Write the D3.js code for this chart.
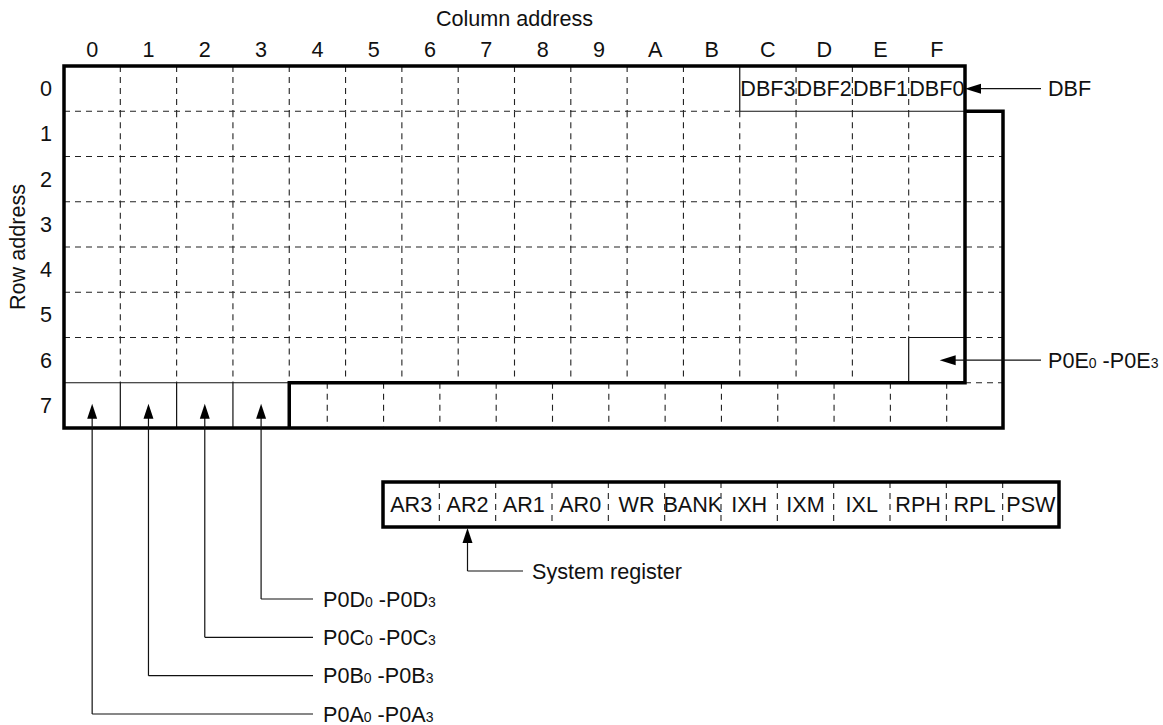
<!DOCTYPE html>
<html>
<head>
<meta charset="utf-8">
<script src="https://cdn.jsdelivr.net/npm/d3@7"></script>
<style>
  body { margin: 0; background: #fff; }
  text { font-family: "Liberation Sans", Arial, sans-serif; font-size: 21.6px; fill: #111; }
  .thick { stroke: #000; stroke-width: 3.5; fill: none; }
  .thin { stroke: #111; stroke-width: 1.2; fill: none; }
  .dash { stroke: #222; stroke-width: 1.1; stroke-dasharray: 6,5; fill: none; }
  .sub { font-size: 14px; }
</style>
</head>
<body>
<div id="chart"></div>
<script>
// data
var columns = ["0", "1", "2", "3", "4", "5", "6", "7", "8", "9", "A", "B", "C", "D", "E", "F"];
var rows = ["0", "1", "2", "3", "4", "5", "6", "7"];
var dbfCells = ["DBF3", "DBF2", "DBF1", "DBF0"];   // row 0, columns C..F
var dbfStartCol = 12;
var registers = ["AR3", "AR2", "AR1", "AR0", "WR", "BANK", "IXH", "IXM", "IXL", "RPH", "RPL", "PSW"];
var ports = ["P0A", "P0B", "P0C", "P0D"];          // row 7, columns 0..3
var p0eCell = {row: 6, col: 15};

var width = 1163, height = 725;

var svg = d3.select("#chart")
            .append("svg")
              .attr("width", width)
              .attr("height", height);

// scales
var x = d3.scaleLinear().domain([0, columns.length]).range([64, 965]);
var y = d3.scaleLinear().domain([0, rows.length]).range([66, 428]);
var ext = 38; // width of the extra column on the right
var xr = d3.scaleLinear().domain([0, registers.length]).range([383, 1059]);
var yPort = d3.scaleLinear().domain([0, ports.length - 1]).range([714, 599]);

function line(cls, x1, y1, x2, y2) {
  svg.append("line")
     .attr("class", cls)
     .attr("x1", x1).attr("y1", y1)
     .attr("x2", x2).attr("y2", y2);
}

// arrow head, tip at (tx, ty), direction "left" or "up"
function arrowHead(tx, ty, dir) {
  var p;
  if (dir === "left") {
    p = [[tx, ty], [tx + 16, ty - 5], [tx + 16, ty + 5]];
  } else {
    p = [[tx, ty], [tx - 5, ty + 15], [tx + 5, ty + 15]];
  }
  svg.append("path")
     .attr("d", "M" + p.join("L") + "Z")
     .attr("fill", "#000");
}

// label with subscripts, e.g. P0D0 -P0D3
function portLabel(name, lx, ly) {
  var t = svg.append("text").attr("x", lx).attr("y", ly);
  t.append("tspan").text(name);
  t.append("tspan").attr("class", "sub").text("0");
  t.append("tspan").text(" -" + name);
  t.append("tspan").attr("class", "sub").text("3");
}

// titles
svg.append("text")
   .attr("x", (x(0) + x(columns.length)) / 2)
   .attr("y", 26)
   .attr("text-anchor", "middle")
   .text("Column address");

svg.append("text")
   .attr("transform", "translate(25," + ((y(0) + y(rows.length)) / 2) + ") rotate(-90)")
   .attr("text-anchor", "middle")
   .text("Row address");

svg.selectAll(".col-label")
   .data(columns)
   .enter()
   .append("text")
     .attr("class", "col-label")
     .attr("x", function(d, i) { return x(i + 0.5); })
     .attr("y", 57)
     .attr("text-anchor", "middle")
     .text(function(d) { return d; });

svg.selectAll(".row-label")
   .data(rows)
   .enter()
   .append("text")
     .attr("class", "row-label")
     .attr("x", 46)
     .attr("y", function(d, i) { return y(i + 0.5) + 7.5; })
     .attr("text-anchor", "middle")
     .text(function(d) { return d; });

// dashed grid, rows 0..6
var last = rows.length - 1;
d3.range(1, columns.length).forEach(function(c) {
  for (var r = 0; r < last; r++) {
    var solid = (c === dbfStartCol && r === 0) || (c === p0eCell.col && r === p0eCell.row);
    line(solid ? "thin" : "dash", x(c), y(r), x(c), y(r + 1));
  }
});
d3.range(1, last).forEach(function(r) {
  if (r === 1) {
    line("dash", x(0), y(r), x(dbfStartCol), y(r));
    line("thin", x(dbfStartCol), y(r), x(columns.length), y(r));
  } else if (r === p0eCell.row) {
    line("dash", x(0), y(r), x(p0eCell.col), y(r));
    line("thin", x(p0eCell.col), y(r), x(columns.length), y(r));
    line("dash", x(columns.length), y(r), x(columns.length) + ext, y(r));
  } else {
    line("dash", x(0), y(r), x(columns.length) + ext, y(r));
  }
});
line("dash", x(columns.length), y(last), x(columns.length) + ext, y(last));

// row 7: port cells (solid) and the shifted part (dashed)
line("thin", x(0), y(last), x(ports.length), y(last));
d3.range(1, ports.length).forEach(function(c) {
  line("thin", x(c), y(last), x(c), y(rows.length));
});
d3.range(ports.length, columns.length).forEach(function(c) {
  line("dash", x(c) + ext, y(last), x(c) + ext, y(rows.length));
});

// thick outline
svg.append("path")
   .attr("class", "thick")
   .attr("d", "M" + x(ports.length) + "," + y(rows.length) +
              "V" + y(last) + "H" + x(columns.length) + "V" + y(0) +
              "H" + x(0) + "V" + y(rows.length) + "H" + (x(columns.length) + ext) +
              "V" + y(1) + "H" + x(columns.length));

// DBF cells
svg.selectAll(".dbf")
   .data(dbfCells)
   .enter()
   .append("text")
     .attr("class", "dbf")
     .attr("x", function(d, i) { return x(dbfStartCol + i + 0.5); })
     .attr("y", y(0.5) + 7.5)
     .attr("text-anchor", "middle")
     .text(function(d) { return d; });

// DBF arrow
var dbfY = y(0.5);
line("thin", x(columns.length) + 10, dbfY, 1041, dbfY);
arrowHead(x(columns.length), dbfY, "left");
svg.append("text").attr("x", 1048).attr("y", dbfY + 7.5).text("DBF");

// P0E arrow
var p0eY = y(p0eCell.row + 0.5);
var p0eX = x(p0eCell.col + 0.55);
line("thin", p0eX + 10, p0eY, 1041, p0eY);
arrowHead(p0eX, p0eY, "left");
portLabel("P0E", 1048, p0eY + 7.5);

// port arrows, row 7
ports.forEach(function(p, i) {
  var px = x(i + 0.5);
  var tipY = y(last) + 21;
  var ly = yPort(i);
  line("thin", px, tipY + 10, px, ly);
  line("thin", px, ly, 313, ly);
  arrowHead(px, tipY, "up");
  portLabel(p, 323, ly + 7.5);
});

// system register box
var regTop = 482, regBottom = 527;
d3.range(1, registers.length).forEach(function(i) {
  line("dash", xr(i), regTop, xr(i), regBottom);
});
svg.append("rect")
   .attr("class", "thick")
   .attr("x", xr(0)).attr("y", regTop)
   .attr("width", xr(registers.length) - xr(0))
   .attr("height", regBottom - regTop);

svg.selectAll(".reg")
   .data(registers)
   .enter()
   .append("text")
     .attr("class", "reg")
     .attr("x", function(d, i) { return xr(i + 0.5); })
     .attr("y", (regTop + regBottom) / 2 + 7.5)
     .attr("text-anchor", "middle")
     .text(function(d) { return d; });

var arX = xr(1.5);
line("thin", arX, regBottom + 10, arX, 571);
line("thin", arX, 571, 523, 571);
arrowHead(arX, regBottom + 1, "up");
svg.append("text").attr("x", 532).attr("y", 578.5).text("System register");
</script>
</body>
</html>
